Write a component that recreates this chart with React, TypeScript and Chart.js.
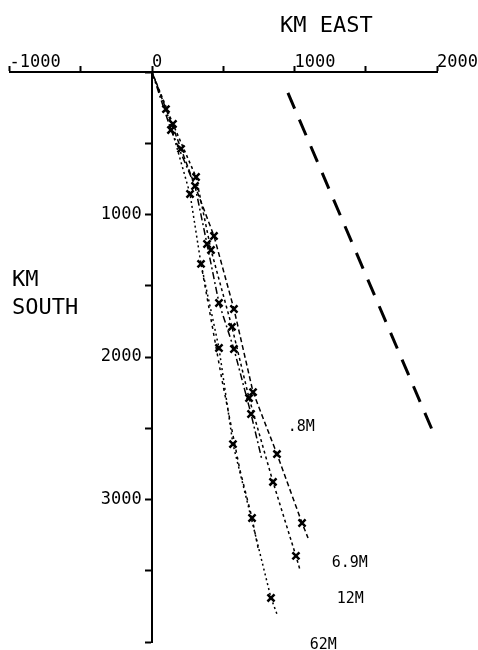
import React, { useEffect, useRef } from "react";
import { Chart, registerables } from "chart.js";

Chart.register(...registerables);

// Axis ticks (km)
const xTickValues = [-1000, -500, 0, 500, 1000, 1500, 2000];
const xTickLabels = ["-1000", "", "0", "", "1000", "", "2000"];
const yTickValues = [0, 500, 1000, 1500, 2000, 2500, 3000, 3500, 4000];
const yTickLabels = ["", "", "1000", "", "2000", "", "3000", "", ""];

// Trajectories (km east, km south)
const track1East = [0, 204, 435, 575, 709, 877, 1053, 1095];
const track1South = [0, 540, 1151, 1663, 2246, 2681, 3165, 3270];
const track2East = [0, 147, 309, 414, 561, 681, 849, 1010, 1039];
const track2South = [0, 365, 737, 1249, 1789, 2288, 2877, 3396, 3495];
const track3East = [0, 133, 302, 386, 470, 575, 695, 772];
const track3South = [0, 407, 800, 1207, 1621, 1944, 2400, 2723];
const track4East = [0, 98, 267, 344, 470, 568, 835, 877];
const track4South = [0, 260, 856, 1347, 1937, 2611, 3691, 3804];
const track5East = [344, 491, 617, 702, 744];
const track5South = [1347, 2161, 2793, 3130, 3340];

// Observed positions (crosses)
const crossEast = [98, 147, 133, 204, 309, 302, 267, 435, 386, 414, 344, 470, 575, 561, 470, 575, 709, 681, 695, 568, 877, 849, 702, 1053, 1010, 835];
const crossSouth = [260, 365, 407, 540, 737, 800, 856, 1151, 1207, 1249, 1347, 1621, 1663, 1789, 1937, 1944, 2246, 2288, 2400, 2611, 2681, 2877, 3130, 3165, 3396, 3691];

// Long dashed line
const dashEast = [954, 1972];
const dashSouth = [147, 2526];

// Annotations
const noteLabels = [".8M", "6.9M", "12M", "62M"];
const noteEast = [953, 1261, 1296, 1107];
const noteSouth = [2491, 3446, 3698, 4021];

const FONT = '"DejaVu Sans Mono", monospace';

function pts(xs: number[], ys: number[]) {
  return xs.map((x, i) => ({ x, y: ys[i] }));
}

const trackDashes = [[5, 3], [3, 3], [7, 3, 2, 3], [2, 3], [3, 4]];
const tracks = [
  [track1East, track1South],
  [track2East, track2South],
  [track3East, track3South],
  [track4East, track4South],
  [track5East, track5South],
];

const textPlugin = {
  id: "texts",
  afterDraw(chart: any) {
    const ctx = chart.ctx;
    const xs = chart.scales.x;
    const ys = chart.scales.y;
    ctx.save();
    ctx.fillStyle = "#000";
    ctx.textBaseline = "middle";
    ctx.textAlign = "left";
    ctx.font = `22px ${FONT}`;
    ctx.fillText("KM EAST", 280, 26);
    ctx.fillText("KM", 12, 280);
    ctx.fillText("SOUTH", 12, 308);
    ctx.font = `15px ${FONT}`;
    noteLabels.forEach((t, i) => {
      ctx.fillText(t, xs.getPixelForValue(noteEast[i]), ys.getPixelForValue(noteSouth[i]));
    });
    ctx.restore();
  },
};

export default function App() {
  const ref = useRef<HTMLCanvasElement>(null);
  useEffect(() => {
    if (!ref.current) return;
    const datasets: any[] = tracks.map(([xs, ys], i) => ({
      data: pts(xs, ys),
      showLine: true,
      borderColor: "#000",
      borderWidth: 1.5,
      borderDash: trackDashes[i],
      pointRadius: 0,
      fill: false,
    }));
    datasets.push({
      data: pts(dashEast, dashSouth),
      showLine: true,
      borderColor: "#000",
      borderWidth: 3,
      borderDash: [17, 12],
      pointRadius: 0,
    });
    datasets.push({
      data: pts(crossEast, crossSouth),
      showLine: false,
      pointStyle: "crossRot",
      pointRadius: 5,
      pointBorderWidth: 2.5,
      borderColor: "#000",
      backgroundColor: "#000",
    });
    const chart = new Chart(ref.current, {
      type: "scatter",
      data: { datasets },
      plugins: [textPlugin],
      options: {
        animation: false,
        responsive: true,
        maintainAspectRatio: false,
        events: [],
        layout: { padding: { left: 9.5, right: 41, top: 42, bottom: 8 } },
        plugins: { legend: { display: false }, tooltip: { enabled: false } },
        scales: {
          x: {
            type: "linear",
            position: "top",
            min: -1000,
            max: 2000,
            afterBuildTicks: (s: any) => {
              s.ticks = xTickValues.map((v) => ({ value: v }));
            },
            ticks: {
              align: "start",
              padding: -7,
              autoSkip: false,
              maxRotation: 0,
              color: "#000",
              font: { family: FONT, size: 17 },
              callback: (v: any) => {
                const i = xTickValues.indexOf(Number(v));
                return i >= 0 ? xTickLabels[i] : "";
              },
            },
            grid: { drawOnChartArea: false, drawTicks: true, tickLength: 6, tickColor: "#000", tickWidth: 2 },
            border: { display: true, color: "#000", width: 2 },
            afterFit: (s: any) => {
              s.height = 30;
              s.paddingLeft = 0;
              s.paddingRight = 0;
            },
          },
          y: {
            type: "linear",
            position: { x: 0 } as any,
            reverse: true,
            min: 0,
            max: 4000,
            afterBuildTicks: (s: any) => {
              s.ticks = yTickValues.map((v) => ({ value: v }));
            },
            ticks: {
              padding: 0,
              autoSkip: false,
              color: "#000",
              font: { family: FONT, size: 17 },
              callback: (v: any) => {
                const i = yTickValues.indexOf(Number(v));
                return i >= 0 && yTickLabels[i] ? yTickLabels[i] + " " : "";
              },
            },
            grid: { drawOnChartArea: false, drawTicks: true, tickLength: 6, tickColor: "#000", tickWidth: 2 },
            border: { display: true, color: "#000", width: 2 },
            afterFit: (s: any) => {
              s.paddingTop = 0;
              s.paddingBottom = 0;
            },
          },
        },
      },
    });
    return () => chart.destroy();
  }, []);
  return (
    <div style={{ position: "absolute", left: 0, top: 0, width: 478, height: 650, background: "#fff" }}>
      <canvas ref={ref} />
    </div>
  );
}
